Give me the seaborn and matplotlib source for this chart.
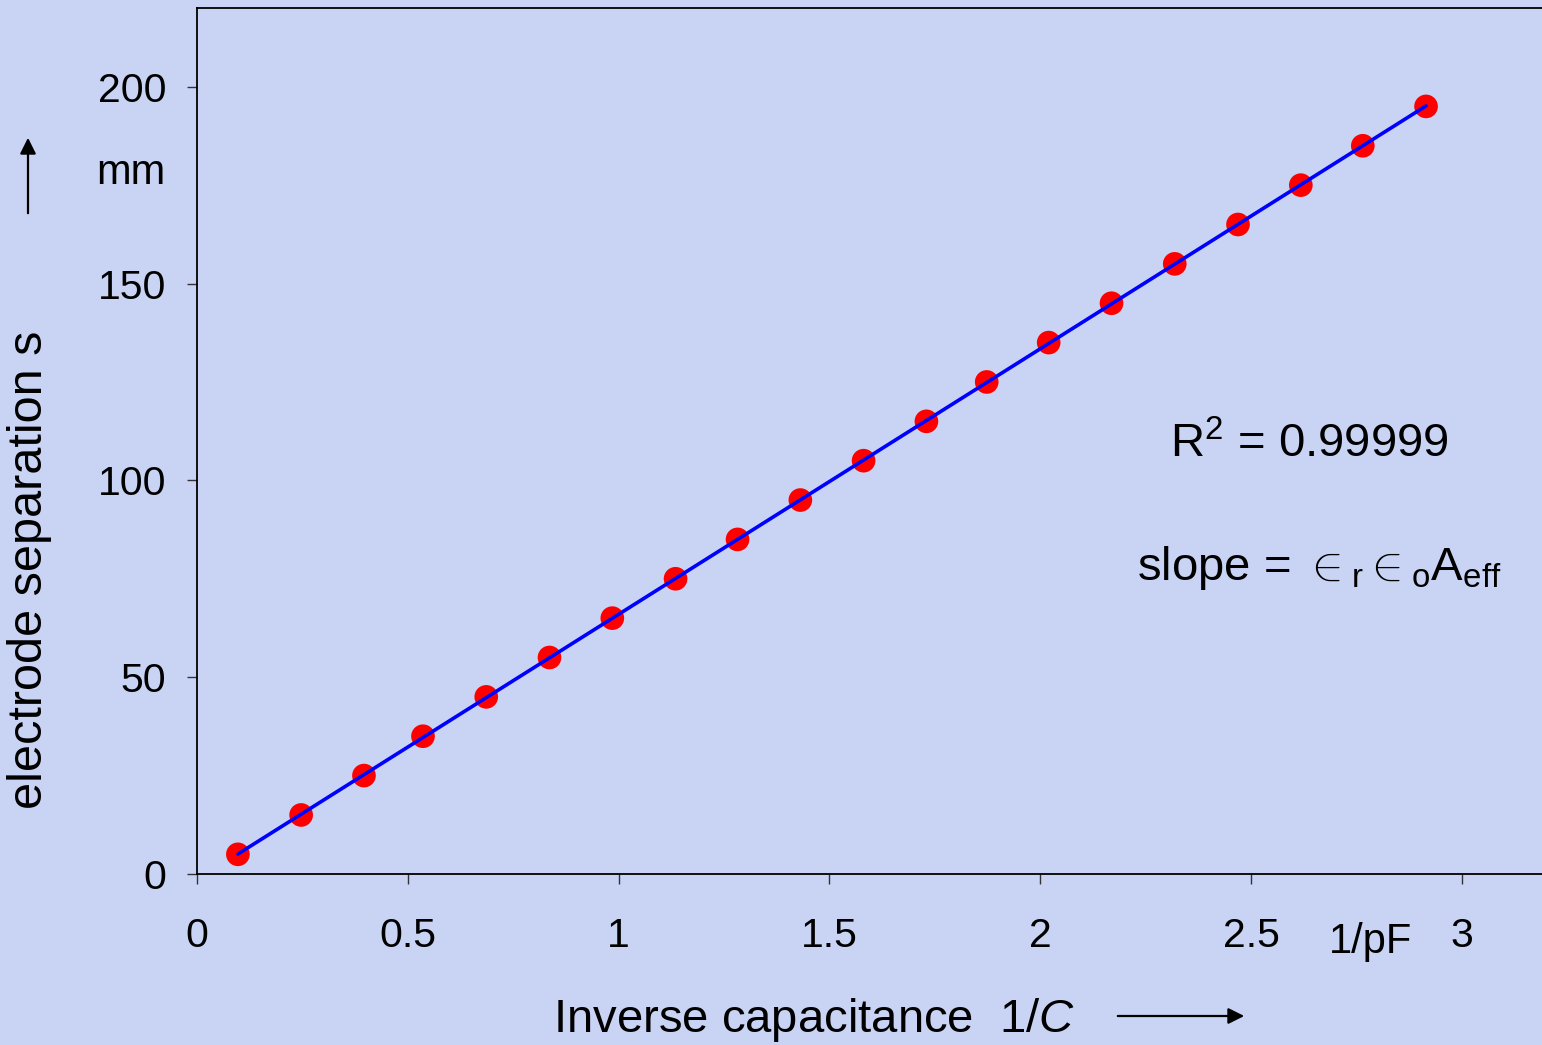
import numpy as np
import pandas as pd
import matplotlib
matplotlib.use("Agg")
import matplotlib.pyplot as plt
import seaborn as sns

inv_cap = [0.097, 0.247, 0.396, 0.536, 0.686, 0.836, 0.985, 1.135, 1.282, 1.431,
           1.581, 1.730, 1.873, 2.020, 2.169, 2.319, 2.469, 2.618, 2.765, 2.915]
separation = [5, 15, 25, 35, 45, 55, 65, 75, 85, 95,
              105, 115, 125, 135, 145, 155, 165, 175, 185, 195]
x_ticks = [0, 0.5, 1, 1.5, 2, 2.5, 3]
x_tick_labels = ["0", "0.5", "1", "1.5", "2", "2.5", "3"]
y_ticks = [0, 50, 100, 150, 200]
y_tick_labels = ["0", "50", "100", "150", "200"]

df = pd.DataFrame({"inv_cap": inv_cap, "separation": separation})

sns.set_theme(style="white")
plt.rcParams["font.family"] = ["Liberation Sans", "DejaVu Sans"]
plt.rcParams["text.color"] = "black"
plt.rcParams["mathtext.fontset"] = "custom"
plt.rcParams["mathtext.rm"] = "Liberation Sans"
plt.rcParams["mathtext.it"] = "Liberation Sans:italic"

bg = "#c9d4f4"
fig = plt.figure(figsize=(15.42, 10.45), dpi=100, facecolor=bg)
W, H = 1542, 1045
ax = fig.add_axes([197 / W, (H - 874) / H, (W - 197) / W, (874 - 8) / H])
ax.set_facecolor(bg)

sns.regplot(data=df, x="inv_cap", y="separation", ax=ax, ci=None, truncate=True,
            scatter_kws=dict(s=290, color="#ff0000", edgecolor="none", alpha=1, zorder=3),
            line_kws=dict(color="#0000ff", lw=2.6, zorder=4))

ax.set_xlim(0, 3.19)
ax.set_ylim(0, 220)
ax.set_xticks(x_ticks)
ax.set_xticklabels(x_tick_labels)
ax.set_yticks(y_ticks)
ax.set_yticklabels(y_tick_labels)
ax.set_xlabel("")
ax.set_ylabel("")
ax.spines["right"].set_visible(False)
for s in ["left", "bottom", "top"]:
    ax.spines[s].set_color("black")
    ax.spines[s].set_linewidth(1.3)
ax.tick_params(axis="both", direction="out", length=7, width=1, color="#333333",
               labelsize=29.5, labelcolor="black")
ax.tick_params(axis="x", pad=24, bottom=True)
ax.tick_params(axis="y", pad=15, left=True)

# Annotations
fig.text(1170 / W, 1 - 445 / H, r"R$^2$ = 0.99999", fontsize=34,
         ha="left", va="center")
fig.text(1137 / W, 1 - 568 / H,
         r"slope = ${\in}_{\mathrm{r}}{\in}_{\mathrm{o}}\mathrm{A}_{\mathrm{eff}}$",
         fontsize=34, ha="left", va="center")

# Unit labels
fig.text(131 / W, 1 - 173 / H, "mm", fontsize=30, ha="center", va="center")
fig.text(1370 / W, 1 - 942 / H, "1/pF", fontsize=30, ha="center", va="center")

# Axis titles
fig.text(30 / W, 1 - 570 / H, "electrode separation s", fontsize=35, rotation=90,
         ha="center", va="center")
fig.text(814 / W, 1 - 1020 / H, r"Inverse capacitance  1/$\mathit{C}$", fontsize=34,
         ha="center", va="center")

# Arrows
fig.patches.append(matplotlib.patches.FancyArrowPatch(
    (28 / W, 1 - 216 / H), (28 / W, 1 - 135 / H), transform=fig.transFigure,
    arrowstyle="-|>", mutation_scale=24, lw=1.6, color="black"))
fig.patches.append(matplotlib.patches.FancyArrowPatch(
    (1115 / W, 1 - 1016 / H), (1247 / W, 1 - 1016 / H), transform=fig.transFigure,
    arrowstyle="-|>", mutation_scale=24, lw=1.6, color="black"))

fig.savefig("out.png", dpi=100, facecolor=bg)
